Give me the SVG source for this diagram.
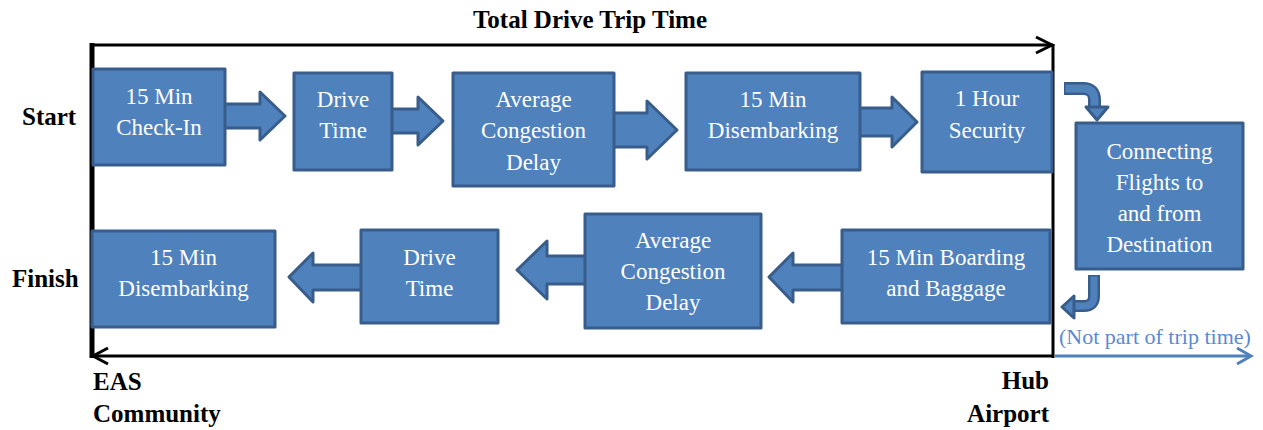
<svg xmlns="http://www.w3.org/2000/svg" width="1263" height="430" viewBox="0 0 1263 430">
<style>
.box{fill:#4f81bd;stroke:#385d8a;stroke-width:3;stroke-linejoin:round}
.arr{fill:#4f81bd;stroke:#385d8a;stroke-width:3;stroke-linejoin:round}
text{font-family:'Liberation Serif','Tinos','Times New Roman',Times,'DejaVu Serif',serif}
.bt{font-size:23px;fill:#ffffff;text-anchor:middle}
.lbl{font-size:25px;font-weight:bold;fill:#000000}
.blk{fill:none;stroke:#000000;stroke-width:3}
.note{font-size:22px;fill:#5b8ad0}
</style>
<rect width="1263" height="430" fill="#ffffff"/>
<g id="labels">
<text class="lbl" x="590" y="28" text-anchor="middle" font-size="26">Total Drive Trip Time</text>
<text class="lbl" x="22" y="125" font-size="26">Start</text>
<text class="lbl" x="12" y="287" font-size="26">Finish</text>
<text class="lbl" x="93" y="390">EAS</text>
<text class="lbl" x="93" y="422">Community</text>
<text class="lbl" x="1049" y="389" text-anchor="end">Hub</text>
<text class="lbl" x="1049" y="422" text-anchor="end">Airport</text>
<text class="note" x="1059" y="344">(Not part of trip time)</text>
</g>
<g id="connectors">
<line class="blk" x1="91" y1="45" x2="1053" y2="45"/>
<polyline class="blk" points="1036,37 1052,45 1036,53" stroke-linejoin="miter"/>
<line x1="92" y1="43" x2="92" y2="358" stroke="#000" stroke-width="5"/>
<line class="blk" x1="1053" y1="44" x2="1053" y2="358"/>
<line class="blk" x1="92" y1="356" x2="1053" y2="356"/>
<polyline class="blk" points="108,348 93,356 108,364" stroke-linejoin="miter"/>
<line x1="1055" y1="356" x2="1251" y2="356" stroke="#4f81bd" stroke-width="3"/>
<polyline points="1237,348 1251,356 1237,364" fill="none" stroke="#4f81bd" stroke-width="3"/>
<polygon class="arr" points="222,104 260,104 260,92 285,116 260,140 260,128 222,128"/>
<polygon class="arr" points="390,109 418,109 418,97 443,121 418,145 418,133 390,133"/>
<polygon class="arr" points="612,113 647,113 647,101 677,130 647,159 647,147 612,147"/>
<polygon class="arr" points="858,108 892,108 892,97 917,122 892,147 892,136 858,136"/>
<polygon class="arr" points="844,265 793,265 793,253 769,277 793,302 793,290 844,290"/>
<polygon class="arr" points="587,256 547,256 547,241 517,270 547,299 547,284 587,284"/>
<polygon class="arr" points="363,265 313,265 313,253 289,277 313,302 313,290 363,290"/>
<path d="M1064,88.5 H1083 Q1094.5,88.5 1094.5,100 V108" fill="none" stroke="#385d8a" stroke-width="13"/>
<path d="M1065.5,88.5 H1083 Q1094.5,88.5 1094.5,100 V109" fill="none" stroke="#4f81bd" stroke-width="8"/>
<polygon class="arr" points="1086,107 1108,107 1097,120" stroke-width="2.5"/>
<path d="M1094,275 V296 Q1094,306 1084,306 H1073" fill="none" stroke="#385d8a" stroke-width="12"/>
<path d="M1094,276.5 V296 Q1094,306 1084,306 H1072" fill="none" stroke="#4f81bd" stroke-width="7"/>
<polygon class="arr" points="1074,296 1074,318 1062,307" stroke-width="2.5"/>
</g>
<g id="n1"><rect class="box" x="93" y="69" width="132" height="96"/><text class="bt" x="159" y="104">15 Min</text><text class="bt" x="159" y="135">Check-In</text></g>
<g id="n2"><rect class="box" x="294" y="73" width="98" height="97"/><text class="bt" x="343" y="107">Drive</text><text class="bt" x="343" y="138">Time</text></g>
<g id="n3"><rect class="box" x="453" y="73" width="161" height="113"/><text class="bt" x="533.5" y="107">Average</text><text class="bt" x="533.5" y="138">Congestion</text><text class="bt" x="533.5" y="170">Delay</text></g>
<g id="n4"><rect class="box" x="686" y="73" width="174" height="97"/><text class="bt" x="773" y="107">15 Min</text><text class="bt" x="773" y="138">Disembarking</text></g>
<g id="n5"><rect class="box" x="922" y="72" width="130" height="100"/><text class="bt" x="987" y="106">1 Hour</text><text class="bt" x="987" y="138">Security</text></g>
<g id="n6"><rect class="box" x="1076" y="123" width="167" height="146"/><text class="bt" x="1159.5" y="159">Connecting</text><text class="bt" x="1159.5" y="190">Flights to</text><text class="bt" x="1159.5" y="221">and from</text><text class="bt" x="1159.5" y="252">Destination</text></g>
<g id="n7"><rect class="box" x="842" y="230" width="208" height="93"/><text class="bt" x="946" y="265">15 Min Boarding</text><text class="bt" x="946" y="296">and Baggage</text></g>
<g id="n8"><rect class="box" x="585" y="214" width="176" height="114"/><text class="bt" x="673" y="248">Average</text><text class="bt" x="673" y="279">Congestion</text><text class="bt" x="673" y="310">Delay</text></g>
<g id="n9"><rect class="box" x="361" y="230" width="137" height="93"/><text class="bt" x="429.5" y="265">Drive</text><text class="bt" x="429.5" y="296">Time</text></g>
<g id="n10"><rect class="box" x="92" y="231" width="183" height="96"/><text class="bt" x="183.5" y="265">15 Min</text><text class="bt" x="183.5" y="296">Disembarking</text></g>
</svg>
